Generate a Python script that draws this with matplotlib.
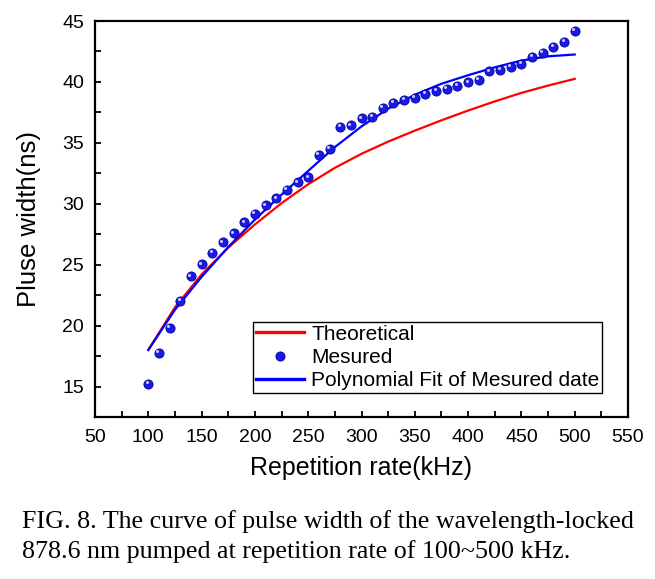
import matplotlib
matplotlib.use("Agg")
import matplotlib.pyplot as plt
import matplotlib.transforms as mtransforms
import matplotlib.lines as mlines
from matplotlib.ticker import MultipleLocator

# ---- data ----
rate_meas = [100, 110, 120, 130, 140, 150, 160, 170, 180, 190, 200, 210, 220, 230, 240, 250,
             260, 270, 280, 290, 300, 310, 320, 330, 340, 350, 360, 370, 380, 390, 400, 410,
             420, 430, 440, 450, 460, 470, 480, 490, 500]
width_meas = [15.22, 17.76, 19.84, 22.02, 24.04, 25.03, 25.98, 26.86, 27.57, 28.50, 29.20, 29.86,
              30.47, 31.15, 31.75, 32.19, 34.02, 34.51, 36.34, 36.45, 37.02, 37.13, 37.90, 38.28,
              38.52, 38.72, 39.02, 39.26, 39.45, 39.70, 39.97, 40.16, 40.87, 41.01, 41.26, 41.50,
              42.05, 42.40, 42.89, 43.28, 44.18]

rate_curve = [100, 125, 150, 175, 200, 225, 250, 275, 300, 325, 350, 375, 400, 425, 450, 475, 500]
width_theory = [18.0, 21.5, 24.2, 26.4, 28.3, 30.05, 31.6, 32.95, 34.1, 35.1, 36.0, 36.85,
                37.65, 38.4, 39.1, 39.7, 40.25]
width_fit = [18.0, 21.3, 24.0, 26.45, 28.7, 30.75, 32.7, 34.65, 36.35, 37.8, 38.95, 39.85,
             40.55, 41.2, 41.75, 42.1, 42.25]

xticks = [50, 100, 150, 200, 250, 300, 350, 400, 450, 500, 550]
yticks = [15, 20, 25, 30, 35, 40, 45]

sans = ["Liberation Sans", "DejaVu Sans"]
serif = ["Liberation Serif", "DejaVu Serif"]

fig = plt.figure(figsize=(6.55, 5.79), dpi=100)
ax = fig.add_axes([95 / 655, 1 - 417 / 579, 533 / 655, 396 / 579])

ax.plot(rate_curve, width_theory, color="#ff0000", lw=1.6, label="Theoretical", zorder=2)
ax.plot(rate_meas, width_meas, linestyle="none", marker="o", ms=6.6, mfc="#1a1ae6",
        mec="#0000a0", mew=0.6, label="Mesured", zorder=3)
hl = mtransforms.offset_copy(ax.transData, fig=fig, x=-1.1, y=1.1, units="points")
ax.plot(rate_meas, width_meas, linestyle="none", marker="o", ms=2.2, mfc="#c8c8ff",
        mec="none", transform=hl, zorder=4)
ax.plot(rate_curve, width_fit, color="#0000ff", lw=1.6, label="Polynomial Fit of Mesured date",
        zorder=2.5)

ax.set_xlim(50, 550)
ax.set_ylim(12.5, 45)
ax.set_xticks(xticks)
ax.set_yticks(yticks)
ax.xaxis.set_minor_locator(MultipleLocator(25))
ax.yaxis.set_minor_locator(MultipleLocator(2.5))
ax.tick_params(which="both", direction="in", length=4, width=1.3, top=False, right=False)
ax.tick_params(axis="x", which="major", labelsize=14, pad=9)
ax.tick_params(axis="y", which="major", labelsize=14, pad=8)
for lab in ax.get_xticklabels() + ax.get_yticklabels():
    lab.set_family(sans)
for s in ax.spines.values():
    s.set_linewidth(1.6)

ax.set_xlabel("Repetition rate(kHz)", fontsize=18, family=sans, labelpad=7)
ax.set_ylabel("Pluse width(ns)", fontsize=18.5, family=sans, labelpad=15)

h1 = mlines.Line2D([], [], color="#ff0000", lw=2.4)
h2 = mlines.Line2D([], [], linestyle="none", marker="o", ms=6.6, mfc="#1a1ae6", mec="#0000a0", mew=0.6)
h3 = mlines.Line2D([], [], color="#0000ff", lw=2.4)
leg = ax.legend([h1, h2, h3], ["Theoretical", "Mesured", "Polynomial Fit of Mesured date"],
                loc="lower right", bbox_to_anchor=(0.952, 0.06), fancybox=False, framealpha=1,
                edgecolor="black", prop={"family": sans, "size": 15}, handlelength=2.3,
                handletextpad=0.35, borderpad=0.15, labelspacing=0.2, borderaxespad=0)
leg.get_frame().set_linewidth(1.0)

fig.text(22 / 655, 1 - 522 / 579, "FIG. 8. The curve of pulse width of the wavelength-locked",
         family=serif, fontsize=18.7, va="center", ha="left")
fig.text(22 / 655, 1 - 552 / 579, "878.6 nm pumped at repetition rate of 100~500 kHz.",
         family=serif, fontsize=18.7, va="center", ha="left")

fig.savefig("out.png", dpi=100)
